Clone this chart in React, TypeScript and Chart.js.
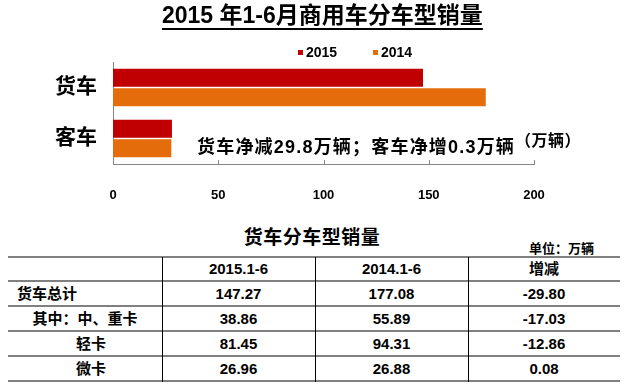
import React, { useEffect, useRef } from 'react';
import { Chart, registerables } from 'chart.js';

Chart.register(...registerables);

// ---- chart data ----
const categories = ['货车', '客车'];
const seriesNames = ['2015', '2014'];
const series2015 = [147.27, 28.0];
const series2014 = [177.08, 27.7];
const xTicks = [0, 50, 100, 150, 200];
const seriesColors = ['#C00000', '#E46C0A'];

const chartTitle = '2015 年1-6月商用车分车型销量';
const noteMain = '货车净减29.8万辆；客车净增0.3万辆';
const noteUnit = '（万辆）';

// ---- table data ----
const tableTitle = '货车分车型销量';
const tableUnit = '单位：万辆';
const tableHeader = ['2015.1-6', '2014.1-6', '增减'];
const rowLabels = ['货车总计', '其中：中、重卡', '轻卡', '微卡'];
const col2015 = ['147.27', '38.86', '81.45', '26.96'];
const col2014 = ['177.08', '55.89', '94.31', '26.88'];
const colDiff = ['-29.80', '-17.03', '-12.86', '0.08'];

const FONT = "'Liberation Sans', Arial, 'Noto Sans CJK SC', sans-serif";

// table geometry
const hLines = [257, 281, 306, 331, 356, 381];
const vLines = [162, 315, 468];
const colEdges = [8, 162, 315, 468, 620];

export default function App() {
  const ref = useRef<HTMLCanvasElement>(null);

  useEffect(() => {
    if (!ref.current) return;
    const innerTicks = {
      id: 'innerTicks',
      afterDraw(chart: any) {
        const xs = chart.scales.x;
        const ctx = chart.ctx;
        const b = chart.chartArea.bottom;
        ctx.save();
        ctx.strokeStyle = '#868686';
        ctx.lineWidth = 1;
        xTicks.forEach((v) => {
          const px = Math.round(xs.getPixelForValue(v)) + 0.5;
          ctx.beginPath();
          ctx.moveTo(px, b - 4);
          ctx.lineTo(px, b);
          ctx.stroke();
        });
        ctx.restore();
      },
    };
    const chart = new Chart(ref.current, {
      type: 'bar',
      data: {
        labels: categories,
        datasets: [
          { label: seriesNames[0], data: series2015, backgroundColor: seriesColors[0] },
          { label: seriesNames[1], data: series2014, backgroundColor: seriesColors[1] },
        ],
      },
      options: {
        indexAxis: 'y',
        responsive: false,
        animation: false,
        devicePixelRatio: 1,
        layout: { padding: { left: 0, right: 93, top: 62, bottom: 0 } },
        plugins: {
          legend: { display: false },
          title: { display: false },
          tooltip: { enabled: false },
        },
        datasets: { bar: { categoryPercentage: 0.765, barPercentage: 0.93 } },
        scales: {
          x: {
            type: 'linear',
            min: 0,
            max: 200,
            afterBuildTicks: (s: any) => {
              s.ticks = xTicks.map((v) => ({ value: v }));
            },
            ticks: { font: { family: FONT, size: 13, weight: 'bold' }, color: '#000', padding: 16 },
            grid: { display: false },
            border: { display: true, color: '#868686', width: 1 },
            afterFit: (s: any) => {
              s.height = 46;
            },
          },
          y: {
            ticks: { font: { family: FONT, size: 21, weight: 'bold' }, color: '#000', padding: 8 },
            grid: { display: false },
            border: { display: true, color: '#868686', width: 1 },
            afterFit: (s: any) => {
              s.width = 113;
            },
          },
        },
      } as any,
      plugins: [innerTicks],
    });
    return () => chart.destroy();
  }, []);

  const abs = (style: React.CSSProperties): React.CSSProperties => ({
    position: 'absolute',
    fontFamily: FONT,
    fontWeight: 'bold',
    color: '#000',
    whiteSpace: 'nowrap',
    ...style,
  });

  const rowMid = (i: number) => (hLines[i] + hLines[i + 1]) / 2;
  const colMid = (c: number) => (colEdges[c] + colEdges[c + 1]) / 2;

  const cell = (text: string, cx: number, cy: number, size: number, key: string) => (
    <div
      key={key}
      style={abs({
        left: cx - 100,
        width: 200,
        textAlign: 'center',
        top: cy - 10,
        height: 20,
        lineHeight: '20px',
        fontSize: size,
      })}
    >
      {text}
    </div>
  );

  const bodyCols = [col2015, col2014, colDiff];

  return (
    <div style={{ position: 'absolute', left: 0, top: 0, width: 627, height: 386, background: '#fff', overflow: 'hidden' }}>
      <canvas ref={ref} width={627} height={210} style={{ position: 'absolute', left: 0, top: 0, display: 'block' }} />
      {/* title */}
      <div
        style={abs({
          left: 162,
          top: 0,
          lineHeight: '30px',
          fontSize: 23,
          textDecoration: 'underline',
          textDecorationThickness: '2px',
          textUnderlineOffset: '5px',
          textDecorationSkipInk: 'none',
        } as any)}
      >
        {chartTitle}
      </div>
      {/* legend */}
      {seriesNames.map((n, i) => (
        <React.Fragment key={n}>
          <div style={{ position: 'absolute', left: 298 + i * 75, top: 50, width: 5, height: 5, background: seriesColors[i] }} />
          <div style={abs({ left: 306 + i * 75, top: 44, lineHeight: '16px', fontSize: 14 })}>{n}</div>
        </React.Fragment>
      ))}
      {/* annotation */}
      <div style={abs({ left: 197, top: 136, lineHeight: '22px', fontSize: 18, letterSpacing: '1.2px' })}>{noteMain}</div>
      <div style={abs({ left: 515, top: 132, lineHeight: '18px', fontSize: 16, letterSpacing: '0.5px' })}>{noteUnit}</div>

      {/* table title & unit */}
      <div style={abs({ left: 212, width: 200, textAlign: 'center', top: 227, lineHeight: '22px', fontSize: 19, letterSpacing: '0.5px' })}>
        {tableTitle}
      </div>
      <div style={abs({ left: 529, top: 241, lineHeight: '16px', fontSize: 13 })}>{tableUnit}</div>

      {/* table lines */}
      {hLines.map((y, i) => (
        <div key={'h' + i} style={{ position: 'absolute', left: 8, width: 612, top: y - 1, height: 2, background: '#808080' }} />
      ))}
      {vLines.map((x, i) => (
        <div key={'v' + i} style={{ position: 'absolute', left: x, width: 1, top: hLines[0], height: hLines[hLines.length - 1] - hLines[0] + 1, background: '#000' }} />
      ))}

      {/* header */}
      {tableHeader.map((h, c) => cell(h, colMid(c + 1), rowMid(0), 15, 'th' + c))}

      {/* rows */}
      {rowLabels.map((lab, r) =>
        r === 0 ? (
          <div key={'rl' + r} style={abs({ left: 17, top: rowMid(r + 1) - 10, lineHeight: '20px', fontSize: 15 })}>
            {lab}
          </div>
        ) : (
          cell(lab, r === 1 ? colMid(0) : colMid(0) + 6, rowMid(r + 1), 15, 'rl' + r)
        )
      )}
      {rowLabels.map((_, r) => bodyCols.map((col, c) => cell(col[r], colMid(c + 1), rowMid(r + 1), 15, `c${r}-${c}`)))}
    </div>
  );
}
